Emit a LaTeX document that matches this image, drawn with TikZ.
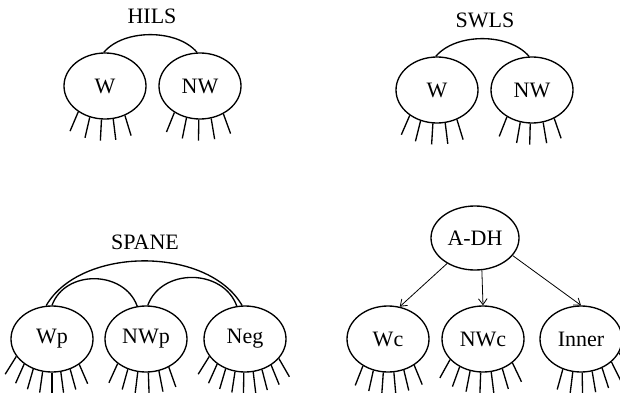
\documentclass[tikz,border=0pt]{standalone}
\usepackage{fontspec}
\setmainfont{Liberation Serif}
\usetikzlibrary{shapes.geometric,arrows.meta}
\newcommand\drawlegs[2]{\foreach \a in {#2} \draw[leg] (#1.\a) -- ++({-90+0.5*(\a+90)}:21);}
\begin{document}
\begin{tikzpicture}[x=0.75pt,y=0.75pt,
  every node/.style={font=\fontsize{16.5}{19}\selectfont},
  blob/.style={draw, ellipse, line width=1pt, minimum width=61.5pt, minimum height=49.5pt, inner sep=0pt},
  title/.style={inner sep=0pt},
  leg/.style={line width=1pt},
  link/.style={line width=1pt},
  arr/.style={line width=0.6pt, -{Straight Barb[length=4.5pt,width=6.5pt]}}]
\useasboundingbox (0,0) rectangle (620,-392);
\clip (0,0) rectangle (620,-392);
% HILS
\node[title] (t1) at (152,-16) {HILS};
\node[blob] (hw) at (105,-86) {W};
\node[blob] (hnw) at (200,-86) {NW};
\draw[link] (hw.92) to[out=50,in=130,looseness=0.85] (hnw.95);
\drawlegs{hw}{-136,-116,-96,-76,-56}
\drawlegs{hnw}{-134,-113,-92,-71,-50}
% SWLS
\node[title] (t2) at (485,-20) {SWLS};
\node[blob] (sw) at (437,-90) {W};
\node[blob] (snw) at (532,-90) {NW};
\draw[link] (sw.92) to[out=50,in=130,looseness=0.85] (snw.95);
\drawlegs{sw}{-137,-118,-97,-76,-56}
\drawlegs{snw}{-133,-110,-93,-71,-52}
% SPANE
\node[title] (t3) at (145,-242) {SPANE};
\node[blob] (wp) at (52,-339) {Wp};
\node[blob] (nwp) at (146,-339) {NWp};
\node[blob] (neg) at (245,-339) {Neg};
\draw[link] (wp.100) to[out=60,in=120,looseness=0.9] (neg.95);
\draw[link] (wp.north) to[out=70,in=110,looseness=1.15] (nwp.105);
\draw[link] (nwp.87) to[out=70,in=110,looseness=1.15] (neg.104);
\drawlegs{wp}{-154,-138,-122,-106,-90,-75,-59,-43}
\drawlegs{nwp}{-139,-121,-104,-86,-68,-51}
\drawlegs{neg}{-154,-138.5,-123,-107.5,-92,-76.5,-61,-45.5,-30}
% A-DH
\node[blob, minimum width=66pt, minimum height=48pt] (adh) at (475,-238) {A-DH};
\node[blob] (wc) at (388,-339) {Wc};
\node[blob] (nwc) at (483,-339) {NWc};
\node[blob] (inner) at (581,-339) {Inner};
\draw[arr] (adh) -- (wc.70);
\draw[arr] (adh.-78) -- (nwc.north);
\draw[arr] (adh.-25) -- (inner.north);
\drawlegs{wc}{-133,-115,-98,-80,-63,-45}
\drawlegs{nwc}{-148,-130,-112,-94,-76,-57,-39}
\drawlegs{inner}{-121,-104,-88,-71,-54,-37,-20}
\end{tikzpicture}
\end{document}
